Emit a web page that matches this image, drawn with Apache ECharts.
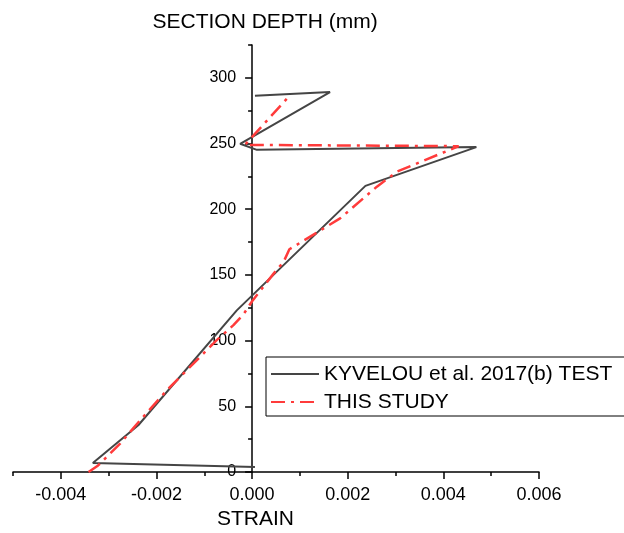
<!DOCTYPE html>
<html><head><meta charset="utf-8">
<script src="https://cdn.jsdelivr.net/npm/echarts@6/dist/echarts.min.js"></script>
<style>html,body{margin:0;padding:0;background:#fff}#c{width:624px;height:533px}</style>
</head><body><div id="c"></div>
<script>
// KYVELOU et al. 2017(b) TEST
const testStrain = [0.00006, -0.00333, -0.00238, -0.00032, 0.00237, 0.00469, 0.0001, -0.00025, 0.00163, 0.00006];
const testDepth  = [3.8, 6.9, 35.6, 123, 217.8, 247.3, 245.2, 249.8, 289.2, 286.4];
// THIS STUDY
const studyStrain = [-0.00342, -0.00322, -0.00276, -0.00234, -0.00178, -0.00116, -0.00074, -0.00039, -0.00018, 0.0, 0.00045, 0.00066, 0.00078, 0.00184, 0.00261, 0.00303, 0.00432, -0.00015, 0.00076];
const studyDepth  = [0, 5, 21.6, 39.4, 62.3, 85, 100.4, 111.8, 120, 130, 151, 160, 169.5, 193, 217.2, 228.6, 248, 249, 285.4];
// tick labels
const xTickLabels = [-0.004, -0.002, 0, 0.002, 0.004, 0.006];
const yTickLabels = [0, 50, 100, 150, 200, 250, 300];
const seriesNames = ['KYVELOU et al. 2017(b) TEST', 'THIS STUDY'];

const FONT = "'Liberation Sans', Arial, sans-serif";
const zip = (a, b) => a.map((v, i) => [v, b[i]]);
const near = (list, v, eps) => list.some(t => Math.abs(t - v) < eps);

const chart = echarts.init(document.getElementById('c'), null, {renderer: 'canvas'});
const axisBlack = {color: '#000', width: 1.5};
const gridBase = {containLabel: false, outerBoundsMode: 'none'};
const hiddenAxis = (gi) => ({gridIndex: gi, type: 'value', min: 0, max: 1, show: false});

chart.setOption({
  animation: false,
  backgroundColor: '#fff',
  textStyle: {fontFamily: FONT},
  grid: [
    Object.assign({left: 13, right: 85, top: 45, bottom: 61}, gridBase),      // data grid
    Object.assign({left: 60.82, right: 85, top: 440, bottom: 61}, gridBase),  // x major ticks
    Object.assign({left: 252.09, width: 20, top: 45, bottom: 61}, gridBase),  // y axis at strain 0
    Object.assign({left: 252.09, width: 20, top: 77.85, bottom: 61}, gridBase) // y major ticks
  ],
  xAxis: [
    {
      gridIndex: 0, type: 'value', min: -0.005, max: 0.006, interval: 0.001,
      axisLine: {show: true, onZero: false, lineStyle: axisBlack},
      axisTick: {show: true, length: 4, lineStyle: axisBlack},
      splitLine: {show: false},
      axisLabel: {
        show: true, fontSize: 18, color: '#000', fontFamily: FONT, margin: 14,
        formatter: v => near(xTickLabels, v, 1e-7) ? v.toFixed(3) : ''
      },
      name: 'STRAIN', nameLocation: 'middle', nameGap: 36,
      nameTextStyle: {fontSize: 21, color: '#000', fontFamily: FONT, padding: [0, 41, 0, 0]}
    },
    {
      gridIndex: 1, type: 'value', min: -0.004, max: 0.006, interval: 0.002,
      axisLine: {show: false, onZero: false},
      axisTick: {show: true, length: 7, lineStyle: axisBlack},
      splitLine: {show: false},
      axisLabel: {show: false}
    },
    hiddenAxis(2),
    hiddenAxis(3)
  ],
  yAxis: [
    {gridIndex: 0, type: 'value', min: 0, max: 325, show: false},
    hiddenAxis(1),
    {
      gridIndex: 2, type: 'value', min: 0, max: 325, interval: 25,
      axisLine: {show: true, onZero: false, lineStyle: axisBlack},
      axisTick: {show: true, length: 4, lineStyle: axisBlack},
      splitLine: {show: false},
      axisLabel: {
        show: true, fontSize: 16, color: '#000', fontFamily: FONT, margin: 16,
        formatter: v => near(yTickLabels, v, 1e-6) ? String(v) : ''
      },
      name: 'SECTION DEPTH (mm)', nameLocation: 'end', nameGap: 12,
      nameTextStyle: {fontSize: 21, color: '#000', fontFamily: FONT, padding: [0, 0, 0, 26]}
    },
    {
      gridIndex: 3, type: 'value', min: 0, max: 300, interval: 50,
      axisLine: {show: false, onZero: false},
      axisTick: {show: true, length: 7, lineStyle: axisBlack},
      splitLine: {show: false},
      axisLabel: {show: false}
    }
  ],
  legend: {
    left: 266, top: 357, orient: 'vertical',
    itemWidth: 48, itemHeight: 14, itemGap: 4,
    padding: [5, 300, 2, 4],
    borderColor: '#000', borderWidth: 1,
    itemStyle: {opacity: 0},
    textStyle: {fontSize: 21, color: '#000', fontFamily: FONT, lineHeight: 24},
    data: seriesNames
  },
  series: [
    {
      name: seriesNames[0], type: 'line', xAxisIndex: 0, yAxisIndex: 0,
      data: zip(testStrain, testDepth), symbol: 'none',
      lineStyle: {color: '#454545', width: 2},
      itemStyle: {color: '#454545'}
    },
    {
      name: seriesNames[1], type: 'line', xAxisIndex: 0, yAxisIndex: 0,
      data: zip(studyStrain, studyDepth), symbol: 'none',
      lineStyle: {color: '#ff3b3b', width: 2.5, type: [14, 6, 3, 6]},
      itemStyle: {color: '#ff3b3b'}
    }
  ]
});
</script></body></html>
